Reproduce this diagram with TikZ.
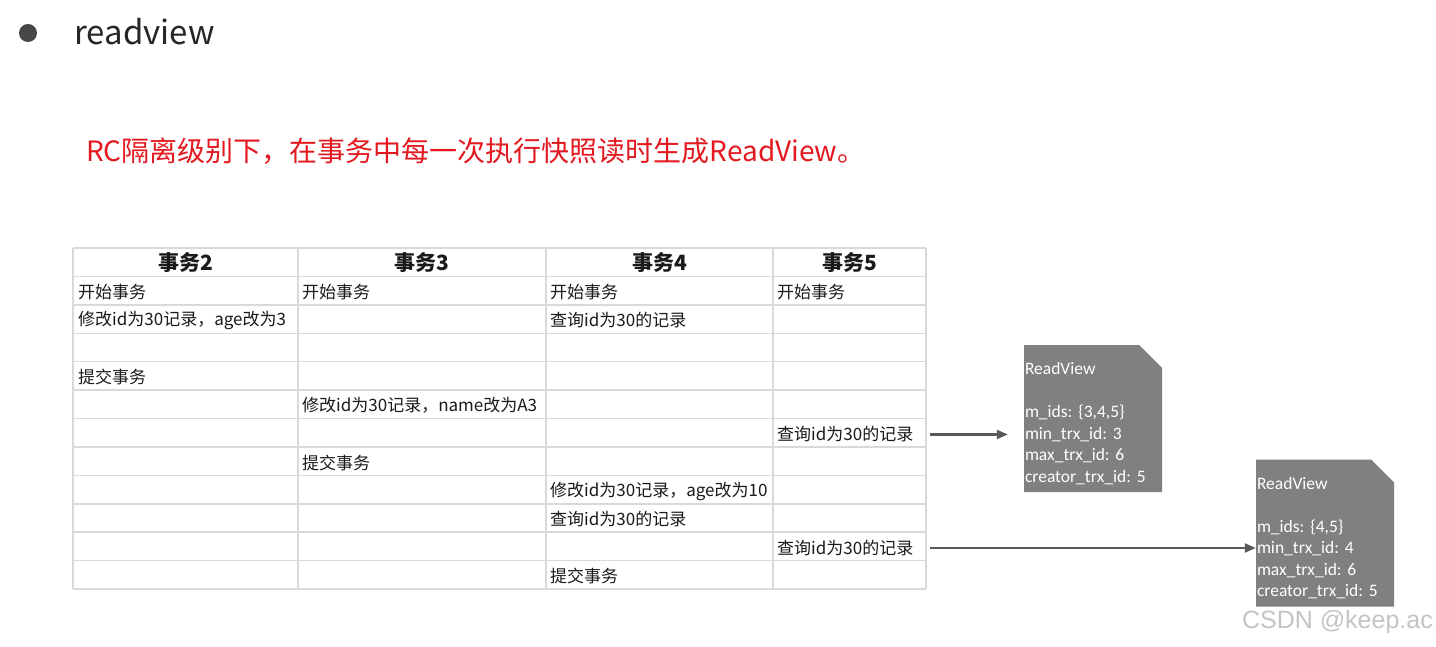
\documentclass[tikz,border=0pt]{standalone}
\usepackage{fontspec}
\usepackage{xcolor}
\usetikzlibrary{arrows.meta}
\newfontfamily\cjk{Noto Sans CJK SC}
\newfontfamily\calib{Carlito}
\newfontfamily\wmark{Liberation Sans}
\definecolor{SlideInk}{HTML}{262626}
\definecolor{SlideRed}{HTML}{E3191F}
\definecolor{TableInk}{HTML}{1A1A1A}
\definecolor{TableRule}{HTML}{D9D9D9}
\definecolor{ViewGrey}{HTML}{808080}
\definecolor{ArrowGrey}{HTML}{595959}
\definecolor{MarkGrey}{HTML}{C4C4C4}
\frenchspacing

\begin{document}
\begin{tikzpicture}[
  x=1pt,y=-1pt,
  rule/.style={draw=TableRule,line width=1.5pt},
  head/.style={inner sep=0pt,font=\cjk\bfseries\fontsize{21}{24}\selectfont,text=TableInk},
  cell/.style={anchor=west,inner sep=0pt,font=\cjk\fontsize{17}{20}\selectfont,text=TableInk},
  view/.style={rectangle,fill=white,minimum width=138pt,minimum height=147pt,text width=136pt,inner xsep=1pt,inner ysep=0pt,align=left,text=white,font=\calib\fontsize{17.5}{21.5}\selectfont,
    path picture={\fill[ViewGrey] (path picture bounding box.south west) -- (path picture bounding box.north west) -- ([xshift=-23pt]path picture bounding box.north east) -- ([yshift=-23pt]path picture bounding box.north east) -- (path picture bounding box.south east) -- cycle;}},
  arrow/.style={-{Triangle[length=11pt,width=9pt]},line width=2.2pt,draw=ArrowGrey}
]
  \useasboundingbox[fill=white] (0,0) rectangle (1436,647);
  % title lines
  \node[circle,fill=SlideInk!85,minimum size=18pt,inner sep=0pt] (dot) at (28,33) {};
  \node[anchor=west,inner sep=0pt,text=SlideInk,font=\cjk\fontsize{33}{36}\selectfont] (title) at (74,32) {readview};
  \node[anchor=west,inner sep=0pt,text=SlideRed,font=\cjk\fontsize{28}{32}\selectfont] (note) at (86,151) {RC隔离级别下，在事务中每一次执行快照读时生成ReadView。};
  % table grid
  \foreach \r in {0,...,12} \draw[rule] (73,{248+28.42*\r}) -- (926,{248+28.42*\r});
  \foreach \c in {73,298,546,773,926} \draw[rule] (\c,248) -- (\c,589);
  \coordinate (tblright) at (926,418);
  % header
  \node[head] (h2) at (185.5,263) {事务2};
  \node[head] (h3) at (422,263) {事务3};
  \node[head] (h4) at (659.5,263) {事务4};
  \node[head] (h5) at (849.5,263) {事务5};
  % transaction 2
  \node[cell] (t2a) at (78,292) {开始事务};
  \node[cell] (t2b) at (78,320.5) {修改id为30记录，age改为3};
  \node[cell] (t2c) at (78,377) {提交事务};
  % transaction 3
  \node[cell] (t3a) at (302,292) {开始事务};
  \node[cell] (t3b) at (302,405.5) {修改id为30记录，name改为A3};
  \node[cell] (t3c) at (302,462.5) {提交事务};
  % transaction 4
  \node[cell] (t4a) at (550,292) {开始事务};
  \node[cell] (t4b) at (550,320.5) {查询id为30的记录};
  \node[cell] (t4c) at (550,491) {修改id为30记录，age改为10};
  \node[cell] (t4d) at (550,519) {查询id为30的记录};
  \node[cell] (t4e) at (550,576) {提交事务};
  % transaction 5
  \node[cell] (t5a) at (777,292) {开始事务};
  \node[cell] (t5b) at (777,434.5) {查询id为30的记录};
  \node[cell] (t5c) at (777,548) {查询id为30的记录};
  % read views
  \node[view] (rv1) at (1093,418.5) {ReadView\rule{0pt}{22pt}\\[21.5pt]m\_ids: \{3,4,5\}\\min\_trx\_id: 3\\max\_trx\_id: 6\\creator\_trx\_id: 5};
  \node[view] (rv2) at (1325,533) {ReadView\rule{0pt}{22pt}\\[21.5pt]m\_ids: \{4,5\}\\min\_trx\_id: 4\\max\_trx\_id: 6\\creator\_trx\_id: 5};
  \draw[arrow,shorten <=4pt,shorten >=16pt] (t5b -| tblright) -- (t5b -| rv1.west);
  \draw[arrow,shorten <=4pt] (t5c -| tblright) -- (t5c -| rv2.west);
  \node[anchor=east,inner sep=0pt,text=MarkGrey,font=\wmark\fontsize{25}{28}\selectfont] (mark) at (1433,622) {CSDN @keep.ac};
\end{tikzpicture}
\end{document}
